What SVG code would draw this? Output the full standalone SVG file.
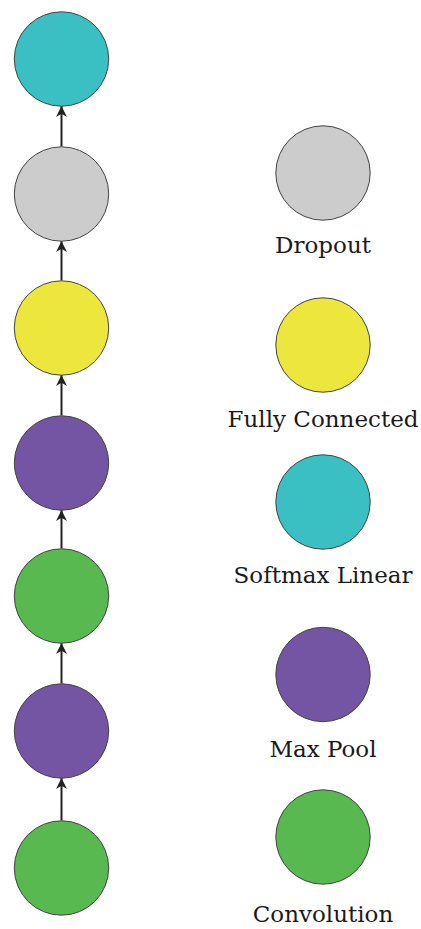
<svg xmlns="http://www.w3.org/2000/svg" width="421" height="929" viewBox="0 0 421 929">
<defs>
<style>
.n{stroke:#444;stroke-width:1}
.conv{fill:#57B94F}.pool{fill:#7355A3}.fc{fill:#EDE63D}.drop{fill:#CCCCCC}.soft{fill:#3ABFC3}
.lbl{font-family:"DejaVu Serif","Liberation Serif",serif;font-size:23px;fill:#1a1a1a;text-anchor:middle}
.e{stroke:#222;stroke-width:2;fill:none;marker-end:url(#ah)}
</style>
<marker id="ah" viewBox="0 0 10 10" refX="10" refY="5" markerWidth="5.5" markerHeight="5.5" markerUnits="strokeWidth" orient="auto">
<path d="M0,0 L10,5 L0,10 L3,5 Z" fill="#222"/>
</marker>
</defs>
<rect width="421" height="929" fill="#fff"/>
<g id="connectors">
<line class="e" x1="61.5" y1="820.5" x2="61.5" y2="778"/>
<line class="e" x1="61.5" y1="683.5" x2="61.5" y2="643"/>
<line class="e" x1="61.5" y1="548.5" x2="61.5" y2="510"/>
<line class="e" x1="61.5" y1="415.5" x2="61.5" y2="375"/>
<line class="e" x1="61.5" y1="280.5" x2="61.5" y2="241"/>
<line class="e" x1="61.5" y1="146.5" x2="61.5" y2="106"/>
</g>
<g id="n1"><circle class="n conv" cx="61.5" cy="868" r="47.2"/></g>
<g id="n2"><circle class="n pool" cx="61.5" cy="731" r="47.2"/></g>
<g id="n3"><circle class="n conv" cx="61.5" cy="596" r="47.2"/></g>
<g id="n4"><circle class="n pool" cx="61.5" cy="463" r="47.2"/></g>
<g id="n5"><circle class="n fc" cx="61.5" cy="328" r="47.2"/></g>
<g id="n6"><circle class="n drop" cx="61.5" cy="194" r="47.2"/></g>
<g id="n7"><circle class="n soft" cx="61.5" cy="59" r="47.2"/></g>
<g id="legend-dropout"><circle class="n drop" cx="323" cy="173" r="47.2"/><text class="lbl" x="323" y="253">Dropout</text></g>
<g id="legend-fc"><circle class="n fc" cx="323" cy="345" r="47.2"/><text class="lbl" x="323" y="427">Fully Connected</text></g>
<g id="legend-softmax"><circle class="n soft" cx="323" cy="502" r="47.2"/><text class="lbl" x="323" y="583">Softmax Linear</text></g>
<g id="legend-pool"><circle class="n pool" cx="323" cy="674.5" r="47.2"/><text class="lbl" x="323" y="757">Max Pool</text></g>
<g id="legend-conv"><circle class="n conv" cx="323" cy="837" r="47.2"/><text class="lbl" x="323" y="922">Convolution</text></g>
</svg>
